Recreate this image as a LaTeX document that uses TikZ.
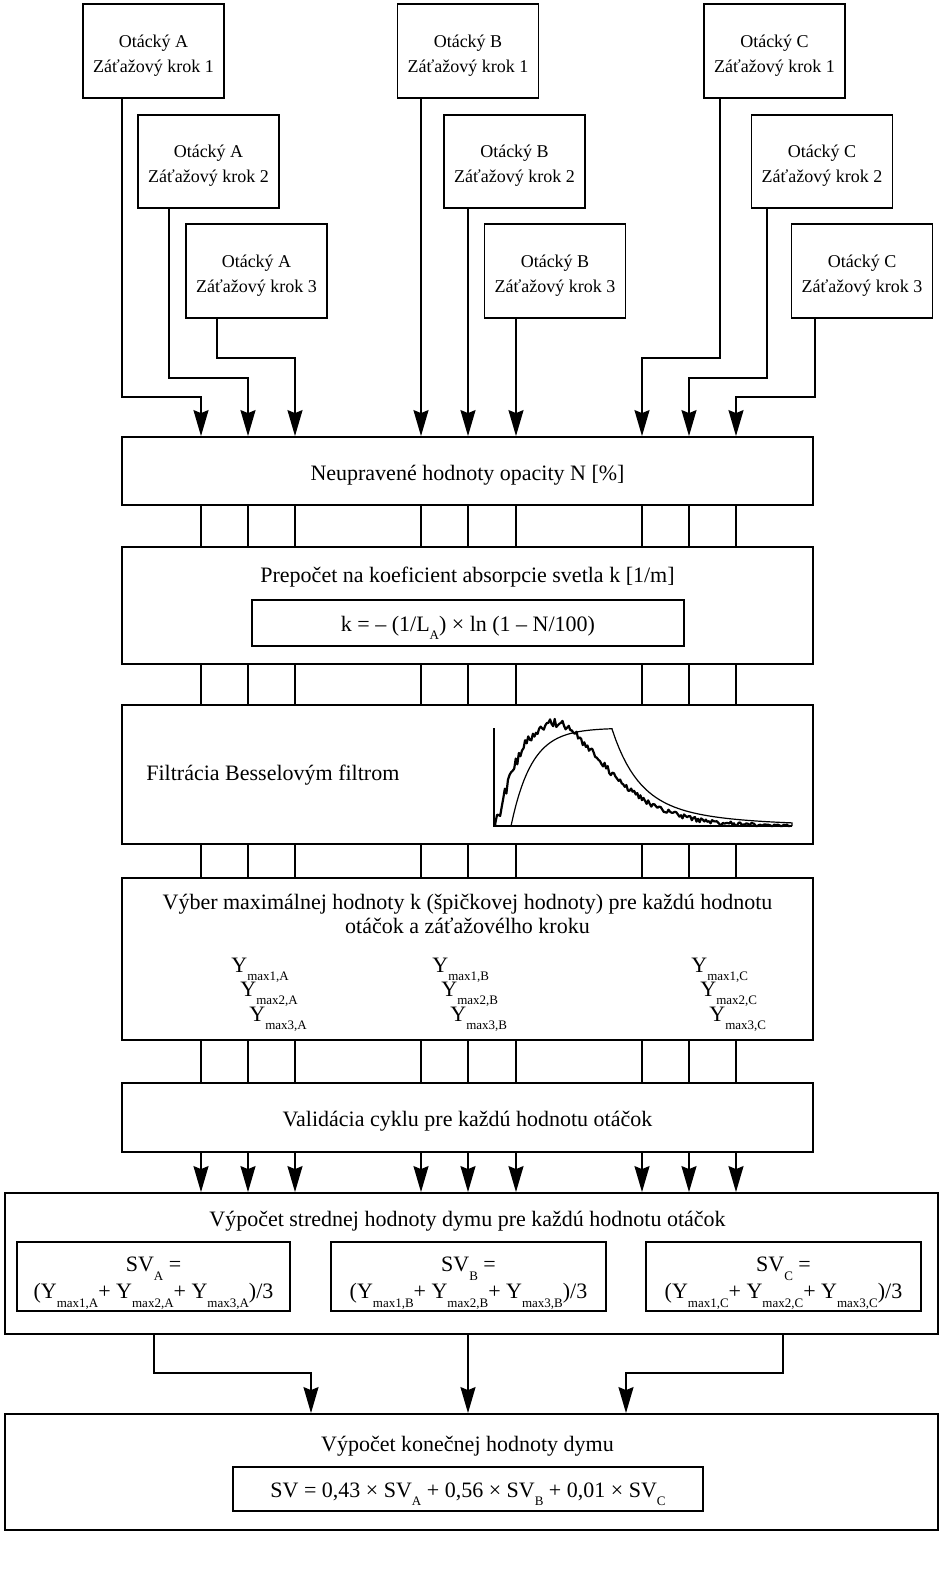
\documentclass[tikz,border=0pt]{standalone}
\usepackage{fontspec}
\setmainfont{Liberation Serif}
\usetikzlibrary{arrows.meta}

\newcommand{\lsub}[1]{\raisebox{-0.8ex}{\fontsize{6.5}{6.5}\selectfont #1}}
\newcommand{\Ymax}[1]{Y\lsub{max#1}}

\begin{document}
\begin{tikzpicture}[x=0.5pt, y=-0.5pt,
    every node/.style={font=\fontsize{11}{12}\selectfont},
    topbox/.style={draw, line width=0.9pt, minimum width=70.5pt, minimum height=46.75pt,
        inner sep=0pt, align=center, text height=23pt, font=\fontsize{9}{12.5}\selectfont},
    mainbox/.style={draw, line width=0.9pt, minimum width=345.5pt, inner sep=0pt, text height=11.5pt},
    widebox/.style={draw, line width=0.9pt, minimum width=466.5pt, inner sep=0pt},
    formbox/.style={draw, line width=0.9pt, inner sep=0pt, align=center, text height=12.5pt},
    svbox/.style={formbox, minimum width=137pt, minimum height=34.5pt, text height=27.5pt,
        font=\fontsize{11}{13.5}\selectfont},
    txt/.style={inner sep=0pt, align=center},
    link/.style={line width=0.9pt},
    arr/.style={line width=0.9pt, -{Stealth[length=13pt, width=7.5pt, inset=1.5pt]}},
    declare function={
        envA(\u)=103*pow((\u/60)*exp(1-\u/60),1.22);
        envB(\u)=103*pow((\u/60)*exp(1-\u/60),2.4);
        env(\u)=(\u<60)*envA(\u)+(\u>=60)*envB(\u);
    }]
        \useasboundingbox (0,0) rectangle (945,1575);

        % Draw input boxes
        \node[topbox] (oA1) at (153.5,51) {Otácký A\\Záťažový krok 1};
        \node[topbox] (oA2) at (208.5,161.5) {Otácký A\\Záťažový krok 2};
        \node[topbox] (oA3) at (256.5,271) {Otácký A\\Záťažový krok 3};
        \node[topbox] (oB1) at (468,51) {Otácký B\\Záťažový krok 1};
        \node[topbox] (oB2) at (514.5,161.5) {Otácký B\\Záťažový krok 2};
        \node[topbox] (oB3) at (555,271) {Otácký B\\Záťažový krok 3};
        \node[topbox] (oC1) at (774.5,51) {Otácký C\\Záťažový krok 1};
        \node[topbox] (oC2) at (822,161.5) {Otácký C\\Záťažový krok 2};
        \node[topbox] (oC3) at (862,271) {Otácký C\\Záťažový krok 3};

        % Draw processing boxes
        \node[mainbox, minimum height=34pt] (nN) at (467.5,471) {Neupravené hodnoty opacity N [\%]};

        \node[mainbox, minimum height=58.5pt] (nK) at (467.5,605.5) {};
        \node[txt] (tK) at (467.5,577) {Prepočet na koeficient absorpcie svetla k [1/m]};
        \node[formbox, minimum width=216pt, minimum height=23pt] (fK) at (468,623) {k = – (1/L\lsub{A}) × ln (1 – N/100)};

        \node[mainbox, minimum height=69.5pt] (nF) at (467.5,774.5) {};
        \node[txt, anchor=west] (tF) at (146,775) {Filtrácia Besselovým filtrom};

        \node[mainbox, minimum height=81pt] (nV) at (467.5,959) {};
        \node[txt] (tV) at (467.5,914) {Výber maximálnej hodnoty k (špičkovej hodnoty) pre každú hodnotu\\otáčok a záťažovélho kroku};

        \node[mainbox, minimum height=34.5pt] (nVal) at (467.5,1117.5) {Validácia cyklu pre každú hodnotu otáčok};

        \node[widebox, minimum height=70.5pt] (nS) at (471.5,1263.5) {};
        \node[txt] (tS) at (467.5,1221) {Výpočet strednej hodnoty dymu pre každú hodnotu otáčok};
        \node[svbox, minimum width=136.5pt] (sA) at (153.5,1276.5)
            {SV\lsub{A} =\\(\Ymax{1,A}+ \Ymax{2,A}+ \Ymax{3,A})/3};
        \node[svbox, minimum width=137.5pt] (sB) at (468.5,1276.5)
            {SV\lsub{B} =\\(\Ymax{1,B}+ \Ymax{2,B}+ \Ymax{3,B})/3};
        \node[svbox, minimum width=137.5pt] (sC) at (783.5,1276.5)
            {SV\lsub{C} =\\(\Ymax{1,C}+ \Ymax{2,C}+ \Ymax{3,C})/3};

        \node[widebox, minimum height=58pt] (nE) at (471.5,1472) {};
        \node[txt] (tE) at (467.5,1446) {Výpočet konečnej hodnoty dymu};
        \node[formbox, minimum width=235pt, minimum height=22pt] (fE) at (468,1489)
            {SV = 0,43 × SV\lsub{A} + 0,56 × SV\lsub{B} + 0,01 × SV\lsub{C}};

        % Peak values
        \foreach \g/\gx in {A/231, B/432, C/691}
            \foreach \i in {1,2,3}
                \node[inner sep=0pt, anchor=base west] (y\g\i) at ({\gx+9*(\i-1)},{972+24.5*(\i-1)}) {\Ymax{\i,\g}};

        % Draw Bessel filter graph
        \draw[line width=0.8pt] (494,728) -- (494,826) -- (792,826);
        \draw[line width=0.6pt] (511,826)
            -- plot[domain=511:612, samples=40] (\x,{826-98*(1-exp(-(\x-511)/20.6))})
            -- plot[domain=612:792, samples=50] (\x,{826-97*(0.7*exp(-(\x-612)/25)+0.3*exp(-(\x-612)/80))})
            -- (792,826);
        \pgfmathsetseed{12}
        \draw[line width=1.1pt, line join=round] (495,826)
            -- plot[domain=0.5:295, samples=190, variable=\u] ({495+\u},{min(826,826-env(\u)-(5*exp(-\u/110)+1.4)*rand)});

        % Column positions
        \foreach \c/\cx in {A1/201, A2/248, A3/295, B1/421, B2/468, B3/516, C1/642, C2/689, C3/736}
            \coordinate (c\c) at (\cx,0);

        % Draw input arrows
        \draw[arr] (oA1.south -| 122,0) |- (201,397) -- (nN.north -| cA1);
        \draw[arr] (oA2.south -| 169,0) |- (248,378) -- (nN.north -| cA2);
        \draw[arr] (oA3.south -| 217,0) |- (295,358) -- (nN.north -| cA3);
        \draw[arr] (oB1.south -| cB1) -- (nN.north -| cB1);
        \draw[arr] (oB2.south -| cB2) -- (nN.north -| cB2);
        \draw[arr] (oB3.south -| cB3) -- (nN.north -| cB3);
        \draw[arr] (oC1.south -| 720,0) |- (642,358) -- (nN.north -| cC1);
        \draw[arr] (oC2.south -| 767,0) |- (689,378) -- (nN.north -| cC2);
        \draw[arr] (oC3.south -| 815,0) |- (736,397) -- (nN.north -| cC3);

        % Draw links between steps
        \foreach \c in {A1,A2,A3,B1,B2,B3,C1,C2,C3} {
            \draw[link] (nN.south -| c\c) -- (nK.north -| c\c);
            \draw[link] (nK.south -| c\c) -- (nF.north -| c\c);
            \draw[link] (nF.south -| c\c) -- (nV.north -| c\c);
            \draw[link] (nV.south -| c\c) -- (nVal.north -| c\c);
            \draw[arr] (nVal.south -| c\c) -- (nS.north -| c\c);
        }

        % Draw final arrows
        \draw[arr] (nS.south -| 154,0) |- (311,1373) -- (nE.north -| 311,0);
        \draw[arr] (nS.south -| 468,0) -- (nE.north -| 468,0);
        \draw[arr] (nS.south -| 783,0) |- (626,1373) -- (nE.north -| 626,0);
    \end{tikzpicture}
\end{document}
